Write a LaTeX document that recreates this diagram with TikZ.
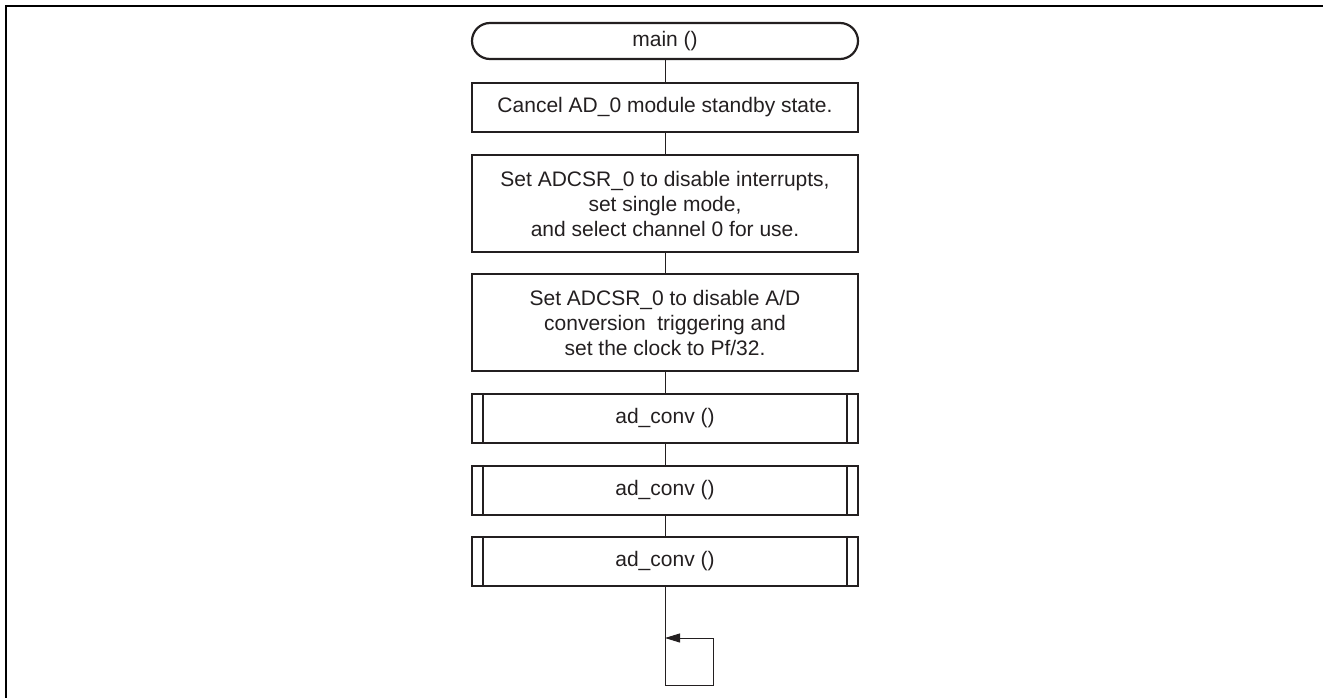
\documentclass[tikz,border=0pt]{standalone}
\usepackage{fontspec}
\setmainfont{Liberation Sans}
\usetikzlibrary{arrows.meta}
\definecolor{ink}{RGB}{35,31,32}
\tikzset{
  flowtext/.style={font=\fontsize{21}{25}\selectfont, text=ink, align=center},
  procbox/.style={flowtext, draw=ink, line width=2.2pt, minimum width=386pt,
    minimum height=49pt, inner sep=0pt},
  termbox/.style={procbox, minimum height=36pt, rounded corners=18pt},
  subbar/.style={draw=ink, line width=1.8pt},
  link/.style={draw=ink, line width=1pt},
  frameline/.style={draw=black, line width=2.4pt}
}
\begin{document}
\begin{tikzpicture}[x=1pt,y=-1pt]
\useasboundingbox (0,0) rectangle (1323,698);
% outer frame (top and left edges)
\draw[frameline] (6,698) -- (6,6) -- (1323,6);

% flow nodes
\node[termbox] (t) at (665,41) {main ()};
\node[procbox] (b1) at (665,107.5) {Cancel AD\_0 module standby state.};
\node[procbox, minimum height=97pt] (b2) at (665,203.5)
  {Set ADCSR\_0 to disable interrupts,\\set single mode,\\ and select channel 0 for use.};
\node[procbox, minimum height=97pt] (b3) at (665,322.5)
  {Set ADCSR\_0 to disable A/D\\conversion\ \ triggering and\\ set the clock to Pf/32.};
\node[procbox] (b4) at (665,418.5) {ad\_conv ()};
\node[procbox] (b5) at (665,490.5) {ad\_conv ()};
\node[procbox] (b6) at (665,561.5) {ad\_conv ()};

% subroutine side bars
\foreach \n in {b4,b5,b6}{
  \draw[subbar] ([xshift=12pt]\n.north west) -- ([xshift=12pt]\n.south west);
  \draw[subbar] ([xshift=-12pt]\n.north east) -- ([xshift=-12pt]\n.south east);
}

% connectors
\draw[link] (t) -- (b1);
\draw[link] (b1) -- (b2);
\draw[link] (b2) -- (b3);
\draw[link] (b3) -- (b4);
\draw[link] (b4) -- (b5);
\draw[link] (b5) -- (b6);

% endless loop at the bottom
\coordinate (l1) at (665,685);
\coordinate (l2) at (713,685);
\coordinate (l3) at (713,638);
\coordinate (l4) at (665,638);
\draw[link] (b6.south) -- (l1) -- (l2) -- (l3);
\draw[link, -{Triangle[length=15pt,width=9pt]}] (l3) -- (l4);
\end{tikzpicture}
\end{document}
